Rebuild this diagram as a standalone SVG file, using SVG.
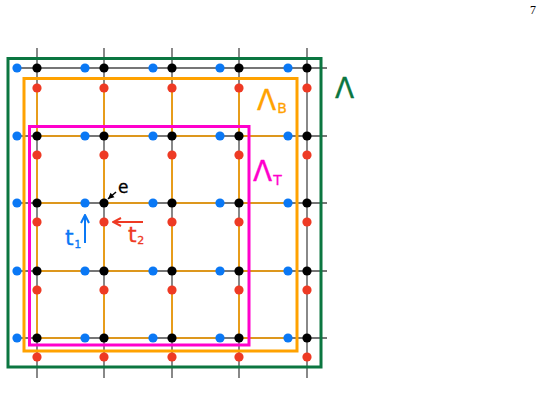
<svg xmlns="http://www.w3.org/2000/svg" width="545" height="408" viewBox="0 0 545 408">
<defs>
<style>
.grid{stroke:#4a4a4a;stroke-width:1.3;fill:none}
.ob{stroke:#ffa200;stroke-width:1.6;fill:none}
.k{fill:#000}
.b{fill:#0a78f5}
.r{fill:#ee3a24}
.lbl{font-family:"DejaVu Sans","Liberation Sans",sans-serif;stroke-width:0.3}
</style>
<marker id="ahK" viewBox="0 0 8 8" refX="7" refY="4" markerWidth="8" markerHeight="8" markerUnits="userSpaceOnUse" orient="auto"><path d="M1,1 L7,4 L1,7 Z" fill="#000"/></marker>
<marker id="ahB" viewBox="0 0 10 10" refX="9" refY="5" markerWidth="10" markerHeight="10" markerUnits="userSpaceOnUse" orient="auto"><path d="M1,1 L9,5 L1,9" fill="none" stroke="#0a78f5" stroke-width="2"/></marker>
<marker id="ahR" viewBox="0 0 10 10" refX="9" refY="5" markerWidth="10" markerHeight="10" markerUnits="userSpaceOnUse" orient="auto"><path d="M1,1 L9,5 L1,9" fill="none" stroke="#ee3a24" stroke-width="2"/></marker>
</defs>
<rect width="545" height="408" fill="#fff"/>
<text x="530" y="14" font-family="Liberation Serif,serif" font-size="12" fill="#000">7</text>
<g id="connectors">
<g id="lattice-lines" class="grid">
<path d="M37,48V378M104,48V378M172,48V378M239,48V378M307,48V378"/>
<path d="M17,68H327M17,136H327M17,203H327M17,271H327M17,338H327"/>
</g>
<g id="lattice-B" class="ob">
<path d="M37,136H85M104,136H153M172,136H220M239,136H288"/>
<path d="M37,203H85M104,203H153M172,203H220M239,203H288"/>
<path d="M37,271H85M104,271H153M172,271H220M239,271H288"/>
<path d="M37,338H85M104,338H153M172,338H220M239,338H288"/>
<path d="M37,88V136M37,155V203M37,222V271M37,290V338"/>
<path d="M104,88V136M104,155V203M104,222V271M104,290V338"/>
<path d="M172,88V136M172,155V203M172,222V271M172,290V338"/>
<path d="M239,88V136M239,155V203M239,222V271M239,290V338"/>
</g>
<path id="arrow-e" d="M116,192L108,199" stroke="#000" stroke-width="1.5" marker-end="url(#ahK)"/>
<path id="arrow-t1" d="M85,243V215" stroke="#0a78f5" stroke-width="2" marker-end="url(#ahB)"/>
<path id="arrow-t2" d="M143,222H113" stroke="#ee3a24" stroke-width="2" marker-end="url(#ahR)"/>
</g>
<g id="region-Lambda">
<rect x="8" y="58.5" width="313" height="308.5" fill="none" stroke="#0b7640" stroke-width="3"/>
<text class="lbl" x="335" y="98" font-size="28" fill="#0b7640" stroke="#0b7640">Λ</text>
</g>
<g id="region-LambdaB">
<rect x="24" y="78.5" width="273" height="272.5" fill="none" stroke="#ffa200" stroke-width="3"/>
<text class="lbl" x="257" y="110" font-size="28" fill="#ffa200" stroke="#ffa200">Λ<tspan dx="1" y="113" font-size="14">B</tspan></text>
</g>
<g id="region-LambdaT">
<rect x="29.5" y="126.5" width="219.5" height="218.5" fill="none" stroke="#ff00cc" stroke-width="3"/>
<text class="lbl" x="253" y="181" font-size="28" fill="#ff00cc" stroke="#ff00cc">Λ<tspan dx="1" y="185" font-size="14">T</tspan></text>
</g>
<g id="nodes-black" class="k">
<circle cx="37" cy="68" r="4.6"/><circle cx="104" cy="68" r="4.6"/><circle cx="172" cy="68" r="4.6"/><circle cx="239" cy="68" r="4.6"/><circle cx="307" cy="68" r="4.6"/>
<circle cx="37" cy="136" r="4.6"/><circle cx="104" cy="136" r="4.6"/><circle cx="172" cy="136" r="4.6"/><circle cx="239" cy="136" r="4.6"/><circle cx="307" cy="136" r="4.6"/>
<circle cx="37" cy="203" r="4.6"/><circle cx="104" cy="203" r="4.6"/><circle cx="172" cy="203" r="4.6"/><circle cx="239" cy="203" r="4.6"/><circle cx="307" cy="203" r="4.6"/>
<circle cx="37" cy="271" r="4.6"/><circle cx="104" cy="271" r="4.6"/><circle cx="172" cy="271" r="4.6"/><circle cx="239" cy="271" r="4.6"/><circle cx="307" cy="271" r="4.6"/>
<circle cx="37" cy="338" r="4.6"/><circle cx="104" cy="338" r="4.6"/><circle cx="172" cy="338" r="4.6"/><circle cx="239" cy="338" r="4.6"/><circle cx="307" cy="338" r="4.6"/>
</g>
<g id="nodes-blue" class="b">
<circle cx="17" cy="68" r="4.6"/><circle cx="85" cy="68" r="4.6"/><circle cx="153" cy="68" r="4.6"/><circle cx="220" cy="68" r="4.6"/><circle cx="288" cy="68" r="4.6"/>
<circle cx="17" cy="136" r="4.6"/><circle cx="85" cy="136" r="4.6"/><circle cx="153" cy="136" r="4.6"/><circle cx="220" cy="136" r="4.6"/><circle cx="288" cy="136" r="4.6"/>
<circle cx="17" cy="203" r="4.6"/><circle cx="85" cy="203" r="4.6"/><circle cx="153" cy="203" r="4.6"/><circle cx="220" cy="203" r="4.6"/><circle cx="288" cy="203" r="4.6"/>
<circle cx="17" cy="271" r="4.6"/><circle cx="85" cy="271" r="4.6"/><circle cx="153" cy="271" r="4.6"/><circle cx="220" cy="271" r="4.6"/><circle cx="288" cy="271" r="4.6"/>
<circle cx="17" cy="338" r="4.6"/><circle cx="85" cy="338" r="4.6"/><circle cx="153" cy="338" r="4.6"/><circle cx="220" cy="338" r="4.6"/><circle cx="288" cy="338" r="4.6"/>
</g>
<g id="nodes-red" class="r">
<circle cx="37" cy="88" r="4.6"/><circle cx="104" cy="88" r="4.6"/><circle cx="172" cy="88" r="4.6"/><circle cx="239" cy="88" r="4.6"/><circle cx="307" cy="88" r="4.6"/>
<circle cx="37" cy="155" r="4.6"/><circle cx="104" cy="155" r="4.6"/><circle cx="172" cy="155" r="4.6"/><circle cx="239" cy="155" r="4.6"/><circle cx="307" cy="155" r="4.6"/>
<circle cx="37" cy="222" r="4.6"/><circle cx="104" cy="222" r="4.6"/><circle cx="172" cy="222" r="4.6"/><circle cx="239" cy="222" r="4.6"/><circle cx="307" cy="222" r="4.6"/>
<circle cx="37" cy="290" r="4.6"/><circle cx="104" cy="290" r="4.6"/><circle cx="172" cy="290" r="4.6"/><circle cx="239" cy="290" r="4.6"/><circle cx="307" cy="290" r="4.6"/>
<circle cx="37" cy="357" r="4.6"/><circle cx="104" cy="357" r="4.6"/><circle cx="172" cy="357" r="4.6"/><circle cx="239" cy="357" r="4.6"/><circle cx="307" cy="357" r="4.6"/>
</g>
<g id="labels" class="lbl">
<text x="118" y="193" font-size="17" fill="#000" stroke="#000">e</text>
<text x="65" y="245" font-size="22" fill="#0a78f5" stroke="#0a78f5">t<tspan dx="0.5" y="248" font-size="11">1</tspan></text>
<text x="128" y="242" font-size="22" fill="#ee3a24" stroke="#ee3a24">t<tspan dx="0.5" y="244" font-size="11">2</tspan></text>
</g>
</svg>
